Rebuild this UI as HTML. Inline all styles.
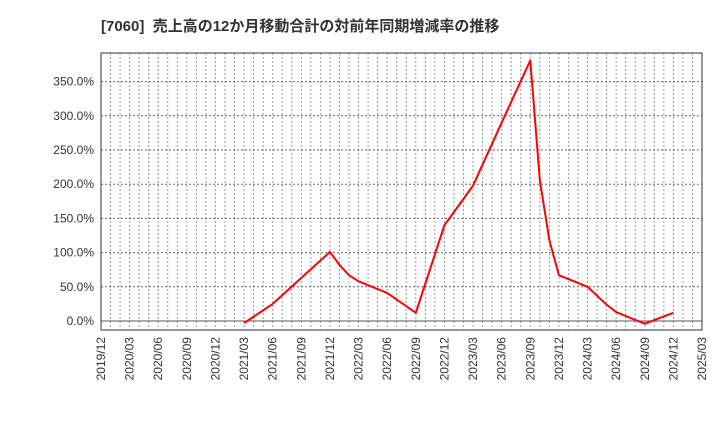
<!DOCTYPE html>
<html><head><meta charset="utf-8"><style>
body{margin:0;background:#fff;width:720px;height:440px;overflow:hidden}
svg{display:block;font-family:"Liberation Sans","Noto Sans CJK JP",sans-serif}
</style></head><body>
<svg id="chart" width="720" height="440">
<text x="101" y="31" font-size="15" font-weight="bold" fill="#333" xml:space="preserve">[7060]  売上高の12か月移動合計の対前年同期増減率の推移</text>
<g id="grid"></g>
<g id="yaxis"></g>
<g id="xaxis"></g>
<rect x="101" y="53" width="601" height="277" fill="none" stroke="#333" stroke-width="1"/>
<g id="series"></g>
</svg>
<script>
const periods=["2021/03","2021/06","2021/09","2021/12","2022/01","2022/02","2022/03","2022/06","2022/09","2022/12","2023/03","2023/06","2023/09","2023/10","2023/11","2023/12","2024/03","2024/04","2024/05","2024/06","2024/09","2024/12"];
const values=[-3,25,63,101,82,67,58,41,12,140,198,290,381,206,118,67,50,37,24,13,-4,12];
const xTickLabels=["2019/12","2020/03","2020/06","2020/09","2020/12","2021/03","2021/06","2021/09","2021/12","2022/03","2022/06","2022/09","2022/12","2023/03","2023/06","2023/09","2023/12","2024/03","2024/06","2024/09","2024/12","2025/03"];
const yTicks=[0,50,100,150,200,250,300,350];
const NS="http://www.w3.org/2000/svg";
const L=101,R=702,T=53,B=330,Y0=321,PER100=68.4;
function mi(s){const [y,m]=s.split("/").map(Number);return (y-2019)*12+m-12;}
const totalM=mi("2025/03");
function x(s){return L+(R-L)*mi(s)/totalM;}
function xm(m){return L+(R-L)*m/totalM;}
function y(v){return Y0-v*PER100/100;}
function mk(t,a,p){const e=document.createElementNS(NS,t);for(const k in a)e.setAttribute(k,a[k]);p.appendChild(e);return e;}
const grid=document.getElementById("grid"),ya=document.getElementById("yaxis"),xa=document.getElementById("xaxis"),se=document.getElementById("series");
for(let m=1;m<totalM;m++){
 const l=mk("line",{x1:xm(m),x2:xm(m),y1:T,y2:B,stroke:"#999","stroke-dasharray":"2,2","stroke-width":1},grid);
 
 
}
yTicks.forEach(v=>{
 const l=mk("line",{x1:L,x2:R,y1:y(v),y2:y(v),stroke:v===0?"#555":"#666","stroke-dasharray":v===0?"none":"2,2","stroke-width":1},grid);
 
 
 const t=mk("text",{x:L-7,y:y(v)+4,"text-anchor":"end","font-size":12,fill:"#333"},ya);
 t.textContent=v.toFixed(1)+"%";
 
 
});
xTickLabels.forEach(s=>{
 const xx=x(s)+4;
 const t=mk("text",{x:xx,y:337,"text-anchor":"end","font-size":12,fill:"#333",transform:`rotate(-90 ${xx} 337)`},xa);
 t.textContent=s;
 
 
});
const pts=periods.map((p,i)=>x(p)+","+y(values[i])).join(" ");
const pl=mk("polyline",{points:pts,fill:"none",stroke:"#f00","stroke-width":2,"stroke-linejoin":"round"},se);


</script>
</body></html>
